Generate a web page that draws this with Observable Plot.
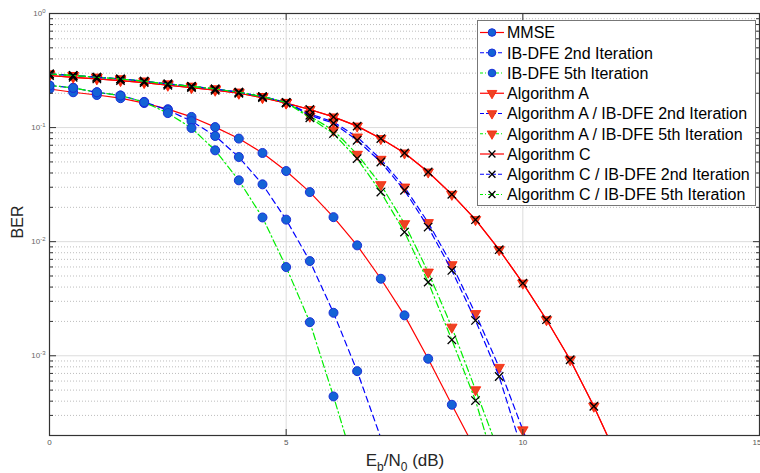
<!DOCTYPE html>
<html><head><meta charset="utf-8">
<script src="https://cdn.jsdelivr.net/npm/d3@7"></script>
<script src="https://cdn.jsdelivr.net/npm/@observablehq/plot@0.6"></script>
<style>
body{margin:0;background:#fff;}
#chart{position:relative;width:760px;height:473px;font-family:"Liberation Sans",Arial,sans-serif;}
</style>
</head><body><div id="chart"></div>
<script>
// ---- data ----
const snr = [0,0.5,1,1.5,2,2.5,3,3.5,4,4.5,5,5.5,6,6.5,7,7.5,8,8.5,9,9.5,10,10.5,11,11.5,12];

const mmse      = [0.218,0.204,0.193,0.181,0.164,0.145,0.124,0.101,0.0801,0.0599,0.0416,0.0272,0.0164,0.00928,0.00473,0.00226,0.000941,0.000372,0.00015];
const ibdfe2    = [0.234,0.223,0.204,0.191,0.168,0.142,0.114,0.0844,0.0552,0.0318,0.0156,0.00676,0.00238,0.000733,0.00019];
const ibdfe5    = [0.234,0.223,0.204,0.191,0.167,0.134,0.0992,0.0632,0.0345,0.0163,0.00599,0.00197,0.00044,0.000091];
const algA      = [0.286,0.276,0.267,0.258,0.248,0.235,0.224,0.2125,0.200,0.183,0.164,0.144,0.124,0.103,0.0801,0.0599,0.0408,0.0260,0.0156,0.00851,0.00433,0.00207,0.000922,0.000361,0.000128];
const algA_ib2  = [0.295,0.286,0.276,0.267,0.255,0.241,0.230,0.218,0.204,0.187,0.166,0.132,0.112,0.0827,0.0527,0.0301,0.01468,0.00628,0.00234,0.00079,0.000224,0.000064];
const algA_ib5  = [0.295,0.286,0.276,0.267,0.255,0.241,0.230,0.218,0.204,0.187,0.166,0.1257,0.0947,0.0583,0.0316,0.01438,0.00541,0.00178,0.000503,0.000141];
const algC      = [0.286,0.276,0.267,0.258,0.248,0.235,0.224,0.2125,0.200,0.183,0.164,0.144,0.124,0.103,0.0801,0.0599,0.0408,0.0260,0.0156,0.00851,0.00433,0.00207,0.000922,0.000361,0.000128];
const algC_ib2  = [0.295,0.286,0.276,0.267,0.255,0.241,0.230,0.218,0.204,0.187,0.166,0.1282,0.1091,0.0774,0.0499,0.0282,0.01343,0.00560,0.00204,0.000658,0.000142];
const algC_ib5  = [0.295,0.286,0.276,0.267,0.255,0.241,0.230,0.218,0.204,0.187,0.166,0.1219,0.0886,0.0535,0.0272,0.01214,0.00442,0.00138,0.000405,0.000082];

const seriesNames = ["MMSE","IB-DFE 2nd Iteration","IB-DFE 5th Iteration","Algorithm A",
  "Algorithm A / IB-DFE 2nd Iteration","Algorithm A / IB-DFE 5th Iteration","Algorithm C",
  "Algorithm C / IB-DFE 2nd Iteration","Algorithm C / IB-DFE 5th Iteration"];
const seriesValues = [mmse,ibdfe2,ibdfe5,algA,algA_ib2,algA_ib5,algC,algC_ib2,algC_ib5];

const xTicks = [0,5,10,15];
const yDecades = [0.001,0.01,0.1,1];
const yMinor = [0.0002,0.0003,0.0004,0.0005,0.0006,0.0007,0.0008,0.0009,
  0.002,0.003,0.004,0.005,0.006,0.007,0.008,0.009,
  0.02,0.03,0.04,0.05,0.06,0.07,0.08,0.09,
  0.2,0.3,0.4,0.5,0.6,0.7,0.8,0.9];

// ---- styles ----
const RED="#ff0000", BLUE="#0000ff", GREEN="#00ee00";
const DASH="6,4", DASHDOT="7,3,1.5,3";
const lineStyle = [[RED,null],[BLUE,DASH],[GREEN,DASHDOT],[RED,null],[BLUE,DASH],[GREEN,DASHDOT],[RED,null],[BLUE,DASH],[GREEN,DASHDOT]];
const markerKind = ["circle","circle","circle","tri","tri","tri","x","x","x"];

const triDown = {draw(ctx, size){
  const s = Math.sqrt(size/(Math.sqrt(3)/4)); const h = s*Math.sqrt(3)/2;
  ctx.moveTo(-s/2,-h/3); ctx.lineTo(s/2,-h/3); ctx.lineTo(0,2*h/3); ctx.closePath();
}};
function markerOpts(kind){
  if(kind==="circle") return {symbol:"circle", r:4.5, fill:"#1463d6", stroke:"#1a30d8", strokeWidth:1};
  if(kind==="tri") return {symbol:triDown, r:3.9, fill:"#ec4424", stroke:"#ff1a00", strokeWidth:0.8};
  return {symbol:"times", r:3.9, fill:"none", stroke:"#000", strokeWidth:1.3};
}

const Y0 = 0.0002;
const marks = [
  Plot.gridY(yMinor, {stroke:"#bdbdbd", strokeOpacity:1, strokeDasharray:"1,2"}),
  Plot.gridY(yDecades, {stroke:"#dcdcdc", strokeOpacity:1}),
  Plot.gridX([5,10], {stroke:"#dcdcdc", strokeOpacity:1}),
];
seriesValues.forEach((vals, i) => {
  const rows = vals.map((v, j) => ({x: snr[j], y: v}));
  const [c, d] = lineStyle[i];
  marks.push(Plot.line(rows, {x:"x", y:"y", stroke:c, strokeWidth:1.2, strokeDasharray:d, clip:true}));
  marks.push(Plot.dot(rows.filter(r => r.y >= Y0), {x:"x", y:"y", ...markerOpts(markerKind[i]), clip:true}));
});
// inward ticks
marks.push(
  Plot.axisY(yDecades, {anchor:"left", tickSize:-7, tickFormat:()=>"", stroke:"#333"}),
  Plot.axisY(yMinor, {anchor:"left", tickSize:-4, tickFormat:()=>"", stroke:"#333"}),
  Plot.axisY(yDecades, {anchor:"right", tickSize:-7, tickFormat:()=>"", stroke:"#333"}),
  Plot.axisY(yMinor, {anchor:"right", tickSize:-4, tickFormat:()=>"", stroke:"#333"}),
  Plot.axisX([5,10], {anchor:"bottom", tickSize:-6, tickFormat:()=>"", stroke:"#333"}),
  Plot.axisX([5,10], {anchor:"top", tickSize:-6, tickFormat:()=>"", stroke:"#333"}),
  Plot.axisY(yDecades, {anchor:"left", tickSize:0, tickPadding:4, fontSize:8, fill:"#666",
    tickFormat: d => "10^" + Math.round(Math.log10(d)), label:null}),
  Plot.axisX(xTicks, {anchor:"bottom", tickSize:0, tickPadding:4, fontSize:8, fill:"#555", label:null}),
  Plot.frame({stroke:"#333", strokeWidth:1.2})
);

const chart = Plot.plot({
  width:760, height:473,
  marginLeft:49, marginRight:1, marginTop:13, marginBottom:38,
  style:{fontFamily:'"Liberation Sans", Arial, sans-serif', background:"#fff"},
  x:{domain:[0,15], label:null},
  y:{type:"log", domain:[Y0,1], label:null},
  marks
});
document.getElementById("chart").appendChild(chart);

const svg = d3.select(chart);
// superscript exponents on y tick labels
svg.selectAll('g[aria-label="y-axis tick label"] text').each(function(){
  const parts = this.textContent.split("^");
  if (parts.length < 2) return;
  this.textContent = "10";
  d3.select(this).append("tspan").attr("dy","-0.55em").attr("font-size","6px").text(parts[1]);
});
// keep the last x tick label inside the picture
svg.selectAll('g[aria-label="x-axis tick label"] text').each(function(){
  if (this.textContent === "15") d3.select(this).attr("text-anchor","end").attr("dx","2");
});

// axis titles
const xl = svg.append("text").attr("x",405).attr("y",466).attr("text-anchor","middle")
  .attr("font-size","17px").attr("fill","#262626");
xl.append("tspan").text("E");
xl.append("tspan").attr("dy",5).attr("font-size","12px").text("b");
xl.append("tspan").attr("dy",-5).text("/N");
xl.append("tspan").attr("dy",5).attr("font-size","12px").text("0");
xl.append("tspan").attr("dy",-5).text(" (dB)");

svg.append("text").attr("transform","translate(23,222) rotate(-90)").attr("text-anchor","middle")
  .attr("font-size","16px").attr("fill","#262626").text("BER");

// legend
const lg = svg.append("g");
lg.append("rect").attr("x",477.5).attr("y",20.5).attr("width",278).attr("height",185)
  .attr("fill","#fff").attr("stroke","#777").attr("stroke-width",1);
seriesNames.forEach((name, i) => {
  const y = 32.5 + i*20.25;
  const [c, d] = lineStyle[i];
  lg.append("line").attr("x1",480).attr("x2",504).attr("y1",y).attr("y2",y)
    .attr("stroke",c).attr("stroke-width",1.2).attr("stroke-dasharray",d ? (c===BLUE ? "4,2" : "3,2,1,2") : null);
  const k = markerKind[i];
  const o = markerOpts(k);
  const sym = k==="circle" ? d3.symbolCircle : k==="tri" ? triDown : d3.symbolTimes;
  const r = k==="x" ? 3.2 : (k==="circle" ? 3.8 : 3.6);
  lg.append("path").attr("transform",`translate(492,${y})`)
    .attr("d", d3.symbol(sym, Math.PI*r*r)())
    .attr("fill",o.fill).attr("stroke",o.stroke).attr("stroke-width",o.strokeWidth);
  lg.append("text").attr("x",507).attr("y",y).attr("dy","0.36em").attr("font-size","16px")
    .attr("text-anchor","start").attr("fill","#000").text(name);
});
</script>
</body></html>
